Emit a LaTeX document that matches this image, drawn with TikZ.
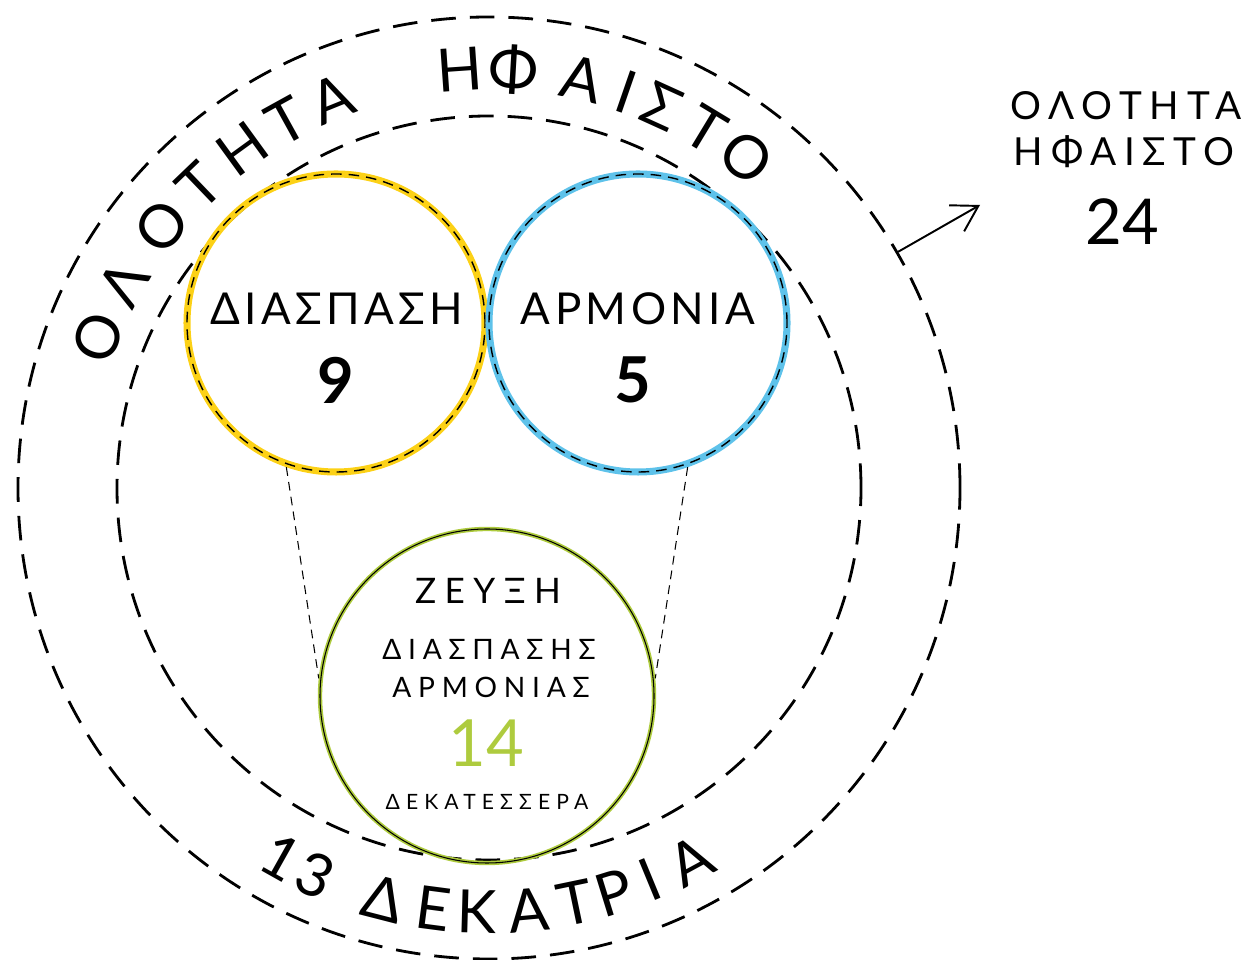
\documentclass[tikz,border=0pt]{standalone}
\usepackage{fontspec}
\setmainfont{Lato}
\usetikzlibrary{arrows.meta}

\definecolor{sunyellow}{HTML}{FCD116}
\definecolor{skyblue}{HTML}{5EC2EA}
\definecolor{limegreen}{HTML}{AECB3E}

\begin{document}
\begin{tikzpicture}[
		ring/.style={circle, inner sep=0pt, draw, line width=1.6pt, dash pattern=on 14pt off 8pt},
		part/.style={circle, inner sep=0pt, minimum size=5.96cm, line width=4pt,
			postaction={draw=black, line width=0.8pt, dash pattern=on 6pt off 4pt}},
		link/.style={line width=0.6pt, dash pattern=on 5pt off 3.5pt},
		arcchar/.style={inner sep=0pt, font=\fontsize{34}{34}\selectfont},
		partlabel/.style={inner sep=0pt, font=\fontsize{25}{25}\selectfont\addfontfeature{LetterSpace=10}},
		partnum/.style={inner sep=0pt, font=\fontsize{36}{36}\selectfont\bfseries},
		unionlabel/.style={inner sep=0pt, font=\fontsize{16}{16}\selectfont\addfontfeature{LetterSpace=24}}
	]
		\useasboundingbox (0,0) rectangle (25,19.2);
		\coordinate (c) at (9.78,9.44);

		% dashed rings
		\node [ring, minimum size=18.84cm] (outer) at (c) {};
		\node [ring, minimum size=14.88cm] (inner) at (c) {};

		% the two parts
		\node [part, draw=sunyellow] (diaspasi) at (6.72,12.74) {};
		\node [part, draw=skyblue] (armonia) at (12.76,12.74) {};
		\node [partlabel] (diaspasi-t) at (6.74,13.02) {ΔΙΑΣΠΑΣΗ};
		\node [partnum] (diaspasi-n) at (6.72,11.6) {9};
		\node [partlabel] (armonia-t) at (12.76,13.02) {ΑΡΜΟΝΙΑ};
		\node [partnum] (armonia-n) at (12.66,11.6) {5};

		% their union
		\node [circle, inner sep=0pt, minimum size=6.68cm, draw=limegreen, line width=2.5pt,
			postaction={draw=black, line width=0.6pt}] (zeuxi) at (9.74,5.28) {};
		\node [inner sep=0pt, font=\fontsize{20}{20}\selectfont\addfontfeature{LetterSpace=24}] (zeuxi-t) at (9.76,7.38) {ΖΕΥΞΗ};
		\node [unionlabel] (zeuxi-a) at (9.78,6.22) {ΔΙΑΣΠΑΣΗΣ};
		\node [unionlabel] (zeuxi-b) at (9.82,5.46) {ΑΡΜΟΝΙΑΣ};
		\node [inner sep=0pt, text=limegreen, font=\fontsize{37}{37}\selectfont] (zeuxi-n) at (9.72,4.34) {14};
		\node [inner sep=0pt, font=\fontsize{12}{12}\selectfont\addfontfeature{LetterSpace=29}] (zeuxi-w) at (9.74,3.16) {ΔΕΚΑΤΕΣΣΕΡΑ};
		\draw [link] (diaspasi.-109) -- (zeuxi.174);
		\draw [link] (armonia.-71) -- (zeuxi.6);

		% text on the rings
		\foreach \ch/\a [count=\i] in {Ο/159,Λ/150.8,Ο/141.4,Τ/133.8,Η/126,Τ/118.9,Α/112,Η/94,Φ/86.6,Α/77.2,Ι/70.9,Σ/65.6,Τ/58.8,Ο/52}
			\node [arcchar, rotate=\a-90] (top\i) at ([shift={(\a:8.38)}]c) {\ch};
		\foreach \ch/\a [count=\i] in {1/240.7,3/245.8,Δ/255.6,Ε/262.5,Κ/268.4,Α/275.3,Τ/281.8,Ρ/287.2,Ι/292.4,Α/298.5}
			\node [arcchar, rotate=\a+90] (bot\i) at ([shift={(\a:8.48)}]c) {\ch};

		% total
		\coordinate (tip) at (19.6,15.1);
		\draw [-{Straight Barb[length=5mm,width=6mm]}, line width=1.1pt] (outer.30) -- (tip);
		\node [inner sep=0pt, font=\fontsize{22}{22}\selectfont\addfontfeature{LetterSpace=20}] (total-a) at (22.52,17.08) {ΟΛΟΤΗΤΑ};
		\node [inner sep=0pt, font=\fontsize{22}{22}\selectfont\addfontfeature{LetterSpace=20}] (total-b) at (22.48,16.16) {ΗΦΑΙΣΤΟ};
		\node [inner sep=0pt, font=\fontsize{36}{36}\selectfont] (total-n) at (22.44,14.76) {24};
	\end{tikzpicture}
\end{document}
